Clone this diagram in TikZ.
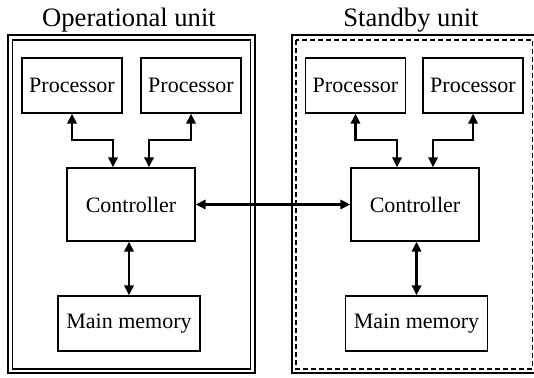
\documentclass[tikz,border=0pt]{standalone}
\usepackage{fontspec}
\setmainfont{Liberation Serif}
\usetikzlibrary{arrows.meta,calc,positioning}

\begin{document}
\begin{tikzpicture}[x=0.5pt,y=-0.5pt]
\tikzset{part/.style={shape=rectangle,draw,line width=0.6pt,align=center,inner sep=0pt,font=\rmfamily\fontsize{11}{13}\selectfont}}
\tikzset{link/.style={line width=1.1pt,{Triangle[length=5pt,width=4.6pt]}-{Triangle[length=5pt,width=4.6pt]}}}
\tikzset{title/.style={anchor=base,font=\rmfamily\fontsize{13.3}{16}\selectfont}}
\def\xb{284}
\def\bus{27.5}
\def\tap{18}
\useasboundingbox (0,0) rectangle (534,378);
%
\node at (129,27) [title] (optitle) {Operational unit};
\draw[line width=0.6pt] (8,35) rectangle (255,373);
\draw[line width=0.6pt] (12.5,40) rectangle (250.5,369);
\node at (72,85.5) [part,minimum width=50pt,minimum height=27.5pt] (proc1) {Processor};
\node at (191,85.5) [part,minimum width=50pt,minimum height=27.5pt] (proc2) {Processor};
\node at (131,204.5) [part,minimum width=64pt,minimum height=36.5pt] (ctrl1) {Controller};
\node at (129,323.5) [part,minimum width=71pt,minimum height=27.5pt] (mem1) {Main memory};
\draw[link] (proc1.south) |- ($(ctrl1.north)+(-\tap,-\bus)$) -- ($(ctrl1.north)+(-\tap,0)$);
\draw[link] (proc2.south) |- ($(ctrl1.north)+(\tap,-\bus)$) -- ($(ctrl1.north)+(\tap,0)$);
\draw[link] (mem1.north |- ctrl1.south) -- (mem1.north);
%
\node at (\xb+127,27) [title] (sbtitle) {Standby unit};
\draw[line width=0.6pt] (292,35) rectangle (540,373);
\draw[line width=0.6pt,dash pattern=on 2.5pt off 1.5pt] (296,40) rectangle (532.5,369);
\node at (\xb+71.5,85.5) [part,minimum width=50pt,minimum height=27.5pt] (proc3) {Processor};
\node at (\xb+189,85.5) [part,minimum width=50pt,minimum height=27.5pt] (proc4) {Processor};
\node at (\xb+131,204.5) [part,minimum width=64pt,minimum height=36.5pt] (ctrl2) {Controller};
\node at (\xb+132.5,323.5) [part,minimum width=71pt,minimum height=27.5pt] (mem2) {Main memory};
\draw[link] (proc3.south) |- ($(ctrl2.north)+(-\tap,-\bus)$) -- ($(ctrl2.north)+(-\tap,0)$);
\draw[link] (proc4.south) |- ($(ctrl2.north)+(\tap,-\bus)$) -- ($(ctrl2.north)+(\tap,0)$);
\draw[link] (mem2.north |- ctrl2.south) -- (mem2.north);
%
\draw[link] (ctrl1.east) -- (ctrl2.west);
\end{tikzpicture}
\end{document}
